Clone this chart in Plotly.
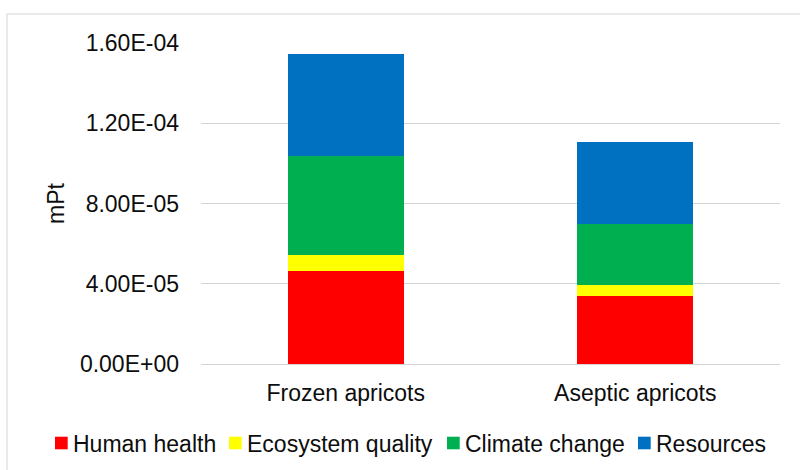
import plotly.graph_objects as go

# Damage categories per product (mPt)
categories = ["Frozen apricots", "Aseptic apricots"]
series_names = ["Human health", "Ecosystem quality", "Climate change", "Resources"]
human_health = [4.64e-5, 3.37e-5]
ecosystem_quality = [0.80e-5, 0.58e-5]
climate_change = [4.92e-5, 3.03e-5]
resources = [5.09e-5, 4.09e-5]

tick_values = [0, 4e-5, 8e-5, 1.2e-4, 1.6e-4]
tick_labels = ["0.00E+00", "4.00E-05", "8.00E-05", "1.20E-04", "1.60E-04"]

colors = ["#FF0000", "#FFFF00", "#00B050", "#0070C0"]
series_values = [human_health, ecosystem_quality, climate_change, resources]

W, H = 800, 470
ML, MR, MT, MB = 201, 20, 43, 106
PW, PH = W - ML - MR, H - MT - MB
FONT = "Liberation Sans, Arial, sans-serif"
FS = 23
TEXT_COLOR = "#0d0d0d"
GRID = "#d4d4d4"


def px_x(px):
    return (px - ML) / PW


def px_y(py):
    return (H - MB - py) / PH


fig = go.Figure()
for name, vals, col in zip(series_names, series_values, colors):
    fig.add_trace(go.Bar(
        x=categories, y=vals, name=name, marker_color=col,
        marker_line_width=0, showlegend=False,
    ))

shapes = [
    # outer chart frame
    dict(type="rect", xref="paper", yref="paper",
         x0=px_x(7), x1=px_x(801), y0=px_y(471), y1=px_y(14),
         line=dict(color=GRID, width=1), fillcolor="rgba(0,0,0,0)", layer="below"),
]
annotations = [
    dict(text="mPt", xref="paper", yref="paper", x=px_x(56), y=px_y(203),
         textangle=-90, showarrow=False, xanchor="center", yanchor="middle",
         font=dict(family=FONT, size=FS, color=TEXT_COLOR)),
]

# custom legend row: colour square followed by label
legend_left = [55, 229, 447, 638]
for name, col, lx in zip(series_names, colors, legend_left):
    shapes.append(dict(type="rect", xref="paper", yref="paper",
                       x0=px_x(lx), x1=px_x(lx + 12.7),
                       y0=px_y(449.3), y1=px_y(436.7),
                       fillcolor=col, line=dict(width=0)))
    annotations.append(dict(text=name, xref="paper", yref="paper",
                            x=px_x(lx + 16), y=px_y(443.5),
                            xanchor="left", yanchor="middle", showarrow=False,
                            font=dict(family=FONT, size=FS, color=TEXT_COLOR)))

fig.update_layout(
    barmode="stack",
    bargap=0.6,
    width=W, height=H,
    margin=dict(l=ML, r=MR, t=MT, b=MB, autoexpand=False),
    paper_bgcolor="white", plot_bgcolor="white",
    font=dict(family=FONT, size=FS, color=TEXT_COLOR),
    shapes=shapes,
    annotations=annotations,
    xaxis=dict(showgrid=False, showline=False, ticks="",
               tickfont=dict(family=FONT, size=FS, color=TEXT_COLOR),
               ticklabelstandoff=13),
    yaxis=dict(range=[0, 1.6001e-4], tickvals=tick_values, ticktext=tick_labels,
               showgrid=True, gridcolor=GRID, gridwidth=1.3,
               zeroline=True, zerolinecolor=GRID, zerolinewidth=1.3,
               showline=False, ticks="",
               tickfont=dict(family=FONT, size=FS, color=TEXT_COLOR),
               ticklabelstandoff=21),
)

fig.write_html("out.html")
